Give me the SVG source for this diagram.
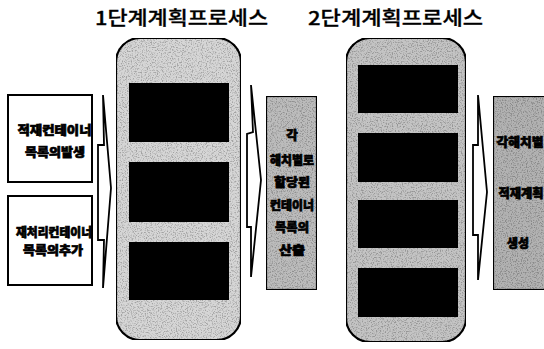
<svg xmlns="http://www.w3.org/2000/svg" width="544" height="349" viewBox="0 0 544 349">
  <defs>
    <style>
      .title { font-family: "Noto Sans CJK KR", "Liberation Serif", serif; font-size: 19px; font-weight: 500; fill: #000; stroke: #000; stroke-width: 0.3; }
      .lbl { font-family: "Noto Sans CJK KR", "Liberation Sans", sans-serif; font-size: 12.5px; font-weight: 900; fill: #000; stroke: #000; stroke-width: 0.7; text-anchor: middle; }
      .box { fill: #fff; stroke: #000; stroke-width: 2; }
      .cap { stroke: #000; stroke-width: 2.2; }
      .blk { fill: #000; }
      .arrow { fill: #fff; stroke: #000; stroke-width: 1.8; stroke-linejoin: miter; }
      .gbox { stroke: #000; stroke-width: 2.2; }
    </style>
    <filter id="grain" x="0" y="0" width="100%" height="100%">
      <feTurbulence type="fractalNoise" baseFrequency="0.8" numOctaves="2" seed="3" result="n"/>
      <feColorMatrix in="n" type="matrix" values="0 0 0 0 0  0 0 0 0 0  0 0 0 0 0  0 0 0 -4 2.1" result="a"/>
      <feComponentTransfer in="a" result="b"><feFuncA type="linear" slope="0.45"/></feComponentTransfer>
      <feComposite in="b" in2="SourceGraphic" operator="in" result="m"/>
      <feMerge><feMergeNode in="SourceGraphic"/><feMergeNode in="m"/></feMerge>
    </filter>
  </defs>

  <rect width="544" height="349" fill="#fff"/>

  <text class="title" x="95" y="25" textLength="173" lengthAdjust="spacingAndGlyphs">1단계계획프로세스</text>
  <text class="title" x="308" y="25" textLength="175" lengthAdjust="spacingAndGlyphs">2단계계획프로세스</text>

  <g id="input1">
    <rect class="box" x="8" y="95" width="84" height="87"/>
    <text class="lbl" x="54.5" y="135" textLength="74" lengthAdjust="spacingAndGlyphs">적재컨테이너</text>
    <text class="lbl" x="55" y="157" textLength="60" lengthAdjust="spacingAndGlyphs">목록의발생</text>
  </g>

  <g id="input2">
    <rect class="box" x="8" y="196" width="84" height="89"/>
    <text class="lbl" x="54" y="237" textLength="76" lengthAdjust="spacingAndGlyphs">재처리컨테이너</text>
    <text class="lbl" x="53" y="255" textLength="60" lengthAdjust="spacingAndGlyphs">목록의추가</text>
  </g>

  <g id="stage1">
    <rect class="cap" x="116" y="38" width="125" height="302" rx="24" ry="24" fill="#d6d6d6" filter="url(#grain)"/>
    <rect class="blk" x="129" y="83" width="100" height="59"/>
    <rect class="blk" x="129" y="162" width="100" height="60"/>
    <rect class="blk" x="129" y="242" width="100" height="58"/>
  </g>

  <g id="result1">
    <rect class="gbox" x="266" y="96" width="51" height="194" fill="#bcbcbc" filter="url(#grain)"/>
    <text class="lbl" x="292" y="140" font-size="13">각</text>
    <text class="lbl" x="292" y="165" textLength="44" lengthAdjust="spacingAndGlyphs">해치별로</text>
    <text class="lbl" x="292" y="187" textLength="36" lengthAdjust="spacingAndGlyphs">할당된</text>
    <text class="lbl" x="292" y="210" textLength="44" lengthAdjust="spacingAndGlyphs">컨테이너</text>
    <text class="lbl" x="292" y="232" textLength="34" lengthAdjust="spacingAndGlyphs">목록의</text>
    <text class="lbl" x="292" y="255" textLength="26" lengthAdjust="spacingAndGlyphs">산출</text>
  </g>

  <g id="stage2">
    <rect class="cap" x="346" y="38" width="120" height="304" rx="24" ry="24" fill="#c4c4c4" filter="url(#grain)"/>
    <rect class="blk" x="358" y="65" width="100" height="48"/>
    <rect class="blk" x="358" y="133" width="100" height="49"/>
    <rect class="blk" x="358" y="200" width="100" height="48"/>
    <rect class="blk" x="358" y="268" width="100" height="49"/>
  </g>

  <g id="result2">
    <rect class="gbox" x="493" y="96" width="56" height="194" fill="#b2b2b2" filter="url(#grain)"/>
    <text class="lbl" x="520" y="147" textLength="47" lengthAdjust="spacingAndGlyphs">각해치별</text>
    <text class="lbl" x="521" y="198" textLength="45" lengthAdjust="spacingAndGlyphs">적재계획</text>
    <text class="lbl" x="518" y="248" textLength="22" lengthAdjust="spacingAndGlyphs">생성</text>
  </g>

  <g id="connectors">
    <polygon class="arrow" points="103,95 111,188 103,288 104,240 98,240 98,145 104,145"/>
    <polygon class="arrow" points="251,85 261,180 251,277 251,227 247,227 247,134 253,132"/>
    <polygon class="arrow" points="478,95 487,192 478,280 478,235 473,235 473,145 478,145"/>
  </g>
</svg>
